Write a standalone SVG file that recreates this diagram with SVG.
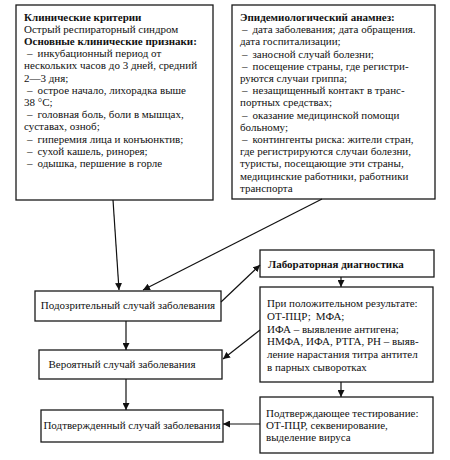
<svg xmlns="http://www.w3.org/2000/svg" width="450" height="460" viewBox="0 0 450 460">
<defs>
<marker id="ah" viewBox="0 0 10 10" refX="10" refY="5" markerWidth="7" markerHeight="7" markerUnits="userSpaceOnUse" orient="auto">
<path d="M0,0 L10,5 L0,10 Z" fill="#111"/>
</marker>
<style>
.box{fill:#fff;stroke:#1a1a1a;stroke-width:1.3}
text{font-family:"Liberation Serif","Times New Roman",serif;font-size:11px;fill:#111}
.b{font-weight:bold}
.c{text-anchor:middle}
.ln{stroke:#111;stroke-width:1.2;fill:none;marker-end:url(#ah)}
</style>
</defs>
<rect width="450" height="460" fill="#fff"/>
<g id="clinical">
<rect class="box" x="16" y="5" width="197" height="195"/>
<text x="24" y="20.5" class="b">Клинические критерии</text>
<text x="24" y="32.7">Острый респираторный синдром</text>
<text x="24" y="44.9" class="b">Основные клинические признаки:</text>
<text x="27" y="57.1">–<tspan dx="5">инкубационный период от</tspan></text>
<text x="24" y="69.3">нескольких часов до 3 дней, средний</text>
<text x="24" y="81.5">2—3 дня;</text>
<text x="27" y="93.7">–<tspan dx="5">острое начало, лихорадка выше</tspan></text>
<text x="24" y="105.9">38 °С;</text>
<text x="27" y="118.1">–<tspan dx="5">головная боль, боли в мышцах,</tspan></text>
<text x="24" y="130.3">суставах, озноб;</text>
<text x="27" y="142.5">–<tspan dx="5">гиперемия лица и конъюнктив;</tspan></text>
<text x="27" y="154.7">–<tspan dx="5">сухой кашель, ринорея;</tspan></text>
<text x="27" y="166.9">–<tspan dx="5">одышка, першение в горле</tspan></text>
</g>
<g id="epid">
<rect class="box" x="232" y="5" width="203" height="194"/>
<text x="240" y="21" class="b">Эпидемиологический анамнез:</text>
<text x="242" y="33.2">–<tspan dx="5">дата заболевания; дата обращения.</tspan></text>
<text x="240" y="45.4">дата госпитализации;</text>
<text x="242" y="57.6">–<tspan dx="5">заносной случай болезни;</tspan></text>
<text x="242" y="69.8">–<tspan dx="5">посещение страны, где регистри-</tspan></text>
<text x="240" y="82">руются случаи гриппа;</text>
<text x="242" y="94.2">–<tspan dx="5">незащищенный контакт в транс-</tspan></text>
<text x="240" y="106.4">портных средствах;</text>
<text x="242" y="118.6">–<tspan dx="5">оказание медицинской помощи</tspan></text>
<text x="240" y="130.8">больному;</text>
<text x="242" y="143">–<tspan dx="5">контингенты риска: жители стран,</tspan></text>
<text x="240" y="155.2">где регистрируются случаи болезни,</text>
<text x="240" y="167.4">туристы, посещающие эти страны,</text>
<text x="240" y="179.6">медицинские работники, работники</text>
<text x="240" y="191.8">транспорта</text>
</g>
<g id="lab">
<rect class="box" x="260" y="250" width="174" height="27"/>
<text x="268" y="268" class="b">Лабораторная диагностика</text>
</g>
<g id="results">
<rect class="box" x="260" y="287" width="173" height="95"/>
<text x="267" y="307">При положительном результате:</text>
<text x="267" y="319.8">ОТ-ПЦР;<tspan dx="5">МФА;</tspan></text>
<text x="267" y="332.6">ИФА – выявление антигена;</text>
<text x="267" y="345.4">НМФА, ИФА, РТГА, РН – выяв-</text>
<text x="267" y="358.2">ление нарастания титра антител</text>
<text x="267" y="371">в парных сыворотках</text>
</g>
<g id="confirmtest">
<rect class="box" x="260" y="397" width="173" height="56"/>
<text x="266" y="417">Подтверждающее тестирование:</text>
<text x="266" y="429">ОТ-ПЦР, секвенирование,</text>
<text x="266" y="441">выделение вируса</text>
</g>
<g id="suspect">
<rect class="box" x="35" y="291" width="186" height="30"/>
<text x="128" y="309" class="c">Подозрительный случай заболевания</text>
</g>
<g id="probable">
<rect class="box" x="39" y="350" width="183" height="29"/>
<text x="122" y="368" class="c">Вероятный случай заболевания</text>
</g>
<g id="confirmed">
<rect class="box" x="41" y="410" width="182" height="32"/>
<text x="132" y="429" class="c">Подтвержденный случай заболевания</text>
</g>
<g id="connectors">
<line class="ln" x1="113" y1="200" x2="119" y2="290"/>
<line class="ln" x1="322" y1="199" x2="143" y2="290"/>
<line class="ln" x1="221" y1="302" x2="260" y2="265"/>
<line class="ln" x1="341" y1="277" x2="341" y2="287"/>
<line class="ln" x1="341" y1="382" x2="341" y2="397"/>
<line class="ln" x1="260" y1="330" x2="223" y2="359"/>
<line class="ln" x1="260" y1="424" x2="223" y2="424"/>
<line class="ln" x1="126" y1="321" x2="126" y2="350"/>
<line class="ln" x1="126" y1="379" x2="126" y2="410"/>
</g>
</svg>
